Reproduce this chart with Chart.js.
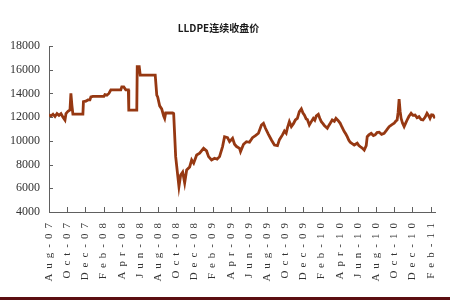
<!DOCTYPE html>
<html>
<head>
<meta charset="utf-8">
<script src="https://cdn.jsdelivr.net/npm/chart.js@4/dist/chart.umd.min.js"></script>
<style>
  html, body { margin: 0; padding: 0; background: #fff; }
  #wrap { width: 450px; height: 300px; }
</style>
</head>
<body>
<div id="wrap"><canvas id="priceChart" width="450" height="300"></canvas></div>
<script>
// month index = months since 1 Aug 2007
const monthIdx = [
    0, 0.22, 0.44, 0.66, 0.88, 1.10, 1.32, 1.54, 1.76, 1.87, 2.09, 2.31, 2.41, 2.52, 2.63,
    3.73, 3.79, 4.06, 4.28, 4.50, 4.61, 4.83, 6.04, 6.15, 6.37, 6.59, 6.81, 7.90, 8.01,
    8.23, 8.45, 8.73, 8.78, 9.66, 9.71, 9.93, 10.04, 11.69, 11.86, 11.96, 12.18, 12.40,
    12.62, 12.73, 12.84, 13.61, 13.72, 13.94, 14.30, 14.49, 14.71, 14.93, 15.15,
    15.48, 15.70, 15.92, 16.25, 16.58, 17.01, 17.34, 17.56, 17.89, 18.22, 18.50, 18.77,
    19.10, 19.32, 19.65, 19.87, 20.20, 20.42, 20.64, 20.97, 21.08, 21.41, 21.73, 22.06,
    22.39, 22.72, 23.05, 23.38, 23.60, 23.82, 24.15, 24.48, 24.81, 25.14, 25.36, 25.69,
    25.91, 26.10, 26.24, 26.45, 26.67, 26.90, 27.11, 27.33, 27.55, 27.77, 27.95, 28.10,
    28.30, 28.43, 28.65, 28.85, 29.09, 29.25, 29.42, 29.64, 29.80, 29.97, 30.15, 30.30,
    30.63, 30.80, 30.95, 31.17, 31.40, 31.58, 31.83, 32.05, 32.25, 32.49, 32.65, 32.82,
    33.00, 33.15, 33.40, 33.59, 33.92, 34.10, 34.25, 34.47, 34.69, 34.91, 35.02, 35.20,
    35.46, 35.70, 35.89, 36.10, 36.33, 36.60, 36.88, 37.15, 37.43, 37.70, 37.98, 38.15,
    38.31, 38.42, 38.53, 38.64, 38.75, 38.90, 39.08, 39.25, 39.41, 39.60, 39.85, 40.05,
    40.29, 40.50, 40.72, 40.95, 41.16, 41.40, 41.60, 41.80, 41.93, 42.10, 42.26, 42.48
];
const closePrice = [
    12200, 12100, 12250, 12050, 12300, 12150, 12300, 12000, 11750, 12300, 12500, 12600, 14000, 13000, 12250,
    12250, 13300, 13350, 13450, 13450, 13700, 13750, 13750, 13900, 13850, 14000, 14300, 14300, 14550,
    14550, 14300, 14300, 12600, 12600, 16250, 16250, 15550, 15550, 13850, 13700, 12950, 12700,
    12100, 11900, 12350, 12350, 12300, 8670, 6140, 7120, 7370, 6450, 7540,
    7800, 8390, 8120, 8810, 8960, 9370, 9150, 8670, 8390, 8530, 8450, 8670,
    9520, 10350, 10270, 9940, 10220, 9710, 9520, 9370, 9090, 9710, 9930, 9880,
    10270, 10440, 10640, 11340, 11480, 11060, 10550, 10070, 9650, 9600, 10100, 10500,
    10830, 10650, 11100, 11620, 11200, 11450, 11760, 11900, 12460, 12690, 12350, 12180,
    11850, 11800, 11340, 11600, 11900, 11750, 12100, 12240, 11900, 11620, 11450, 11300,
    11060, 11300, 11480, 11760, 11650, 11900, 11700, 11480, 11150, 10780, 10600, 10350,
    10050, 9880, 9750, 9650, 9800, 9600, 9510, 9400, 9230, 9600, 10350, 10500,
    10640, 10450, 10500, 10700, 10730, 10550, 10640, 10900, 11200, 11350, 11480, 11650,
    11760, 12400, 13530, 12500, 11900, 11500, 11200, 11500, 11760, 12050, 12330, 12150,
    12180, 11950, 12040, 11800, 11760, 12000, 12330, 12100, 11900, 12200, 12180, 11900
];
const tickLabels = [
    'Aug-07', 'Oct-07', 'Dec-07', 'Feb-08', 'Apr-08', 'Jun-08', 'Aug-08', 'Oct-08',
    'Dec-08', 'Feb-09', 'Apr-09', 'Jun-09', 'Aug-09', 'Oct-09', 'Dec-09', 'Feb-10',
    'Apr-10', 'Jun-10', 'Aug-10', 'Oct-10', 'Dec-10', 'Feb-11'
];
const yMin = 4000;
const yMax = 18000;
const yStep = 2000;

const axisColor = '#606060';

// short tick marks pointing into the plot, like the original
const innerTicks = {
    id: 'innerTicks',
    afterDraw(chart) {
        const ctx = chart.ctx;
        const { x, y } = chart.scales;
        ctx.save();
        ctx.strokeStyle = axisColor;
        ctx.lineWidth = 1;
        ctx.beginPath();
        y.ticks.forEach(t => {
            const py = Math.round(y.getPixelForValue(t.value)) + 0.5;
            ctx.moveTo(y.right, py);
            ctx.lineTo(y.right + 4, py);
        });
        x.ticks.forEach(t => {
            const px = Math.round(x.getPixelForValue(t.value)) + 0.5;
            ctx.moveTo(px, x.top);
            ctx.lineTo(px, x.top - 5);
        });
        ctx.stroke();
        // dark band at the foot of the picture
        ctx.fillStyle = '#5c0f12';
        ctx.fillRect(0, chart.height - 3, chart.width, 3);
        ctx.restore();
    }
};

// widely spaced letters on the date labels
const spacedLabels = {
    id: 'spacedLabels',
    afterLayout(chart) {
        const sx = chart.scales.x;
        if (sx._spaced) return;
        const orig = sx.drawLabels;
        sx.drawLabels = function (area) {
            this.ctx.save();
            this.ctx.letterSpacing = '5px';
            orig.call(this, area);
            this.ctx.restore();
        };
        sx._spaced = true;
    }
};

const ctx = document.getElementById('priceChart').getContext('2d');
new Chart(ctx, {
    type: 'line',
    data: {
        datasets: [{
            label: 'LLDPE',
            data: monthIdx.map((m, i) => ({ x: m, y: closePrice[i] })),
            borderColor: '#963812',
            borderWidth: 2.8,
            pointRadius: 0,
            tension: 0,
            fill: false
        }]
    },
    options: {
        responsive: false,
        animation: false,
        layout: { padding: { left: 0, right: 13, top: 0, bottom: 0 } },
        plugins: {
            legend: { display: false },
            tooltip: { enabled: false },
            title: {
                display: true,
                text: 'LLDPE连续收盘价',
                color: '#1a1a1a',
                font: { family: '"Noto Sans CJK SC", "Liberation Serif"', size: 10, weight: 'bold' },
                padding: { top: 22, bottom: 12 }
            }
        },
        scales: {
            x: {
                type: 'linear',
                min: 0,
                max: 42.5,
                afterFit: s => { s.height = 88; },
                afterBuildTicks: s => {
                    s.ticks = tickLabels.map((_, i) => ({ value: i * 2 }));
                },
                ticks: {
                    autoSkip: false,
                    maxRotation: 90,
                    minRotation: 90,
                    padding: 6,
                    color: '#333',
                    font: { family: '"Liberation Serif"', size: 11 },
                    callback: v => tickLabels[Math.round(v / 2)]
                },
                grid: { display: false, drawTicks: false },
                border: { display: true, color: axisColor, width: 1 }
            },
            y: {
                min: yMin,
                max: yMax,
                afterFit: s => { s.width = 49; },
                ticks: {
                    stepSize: yStep,
                    padding: 9,
                    color: '#333',
                    font: { family: '"Liberation Serif"', size: 12 },
                    callback: v => String(v)
                },
                grid: { display: false, drawTicks: false },
                border: { display: true, color: axisColor, width: 1 }
            }
        }
    },
    plugins: [innerTicks, spacedLabels]
});
</script>
</body>
</html>
